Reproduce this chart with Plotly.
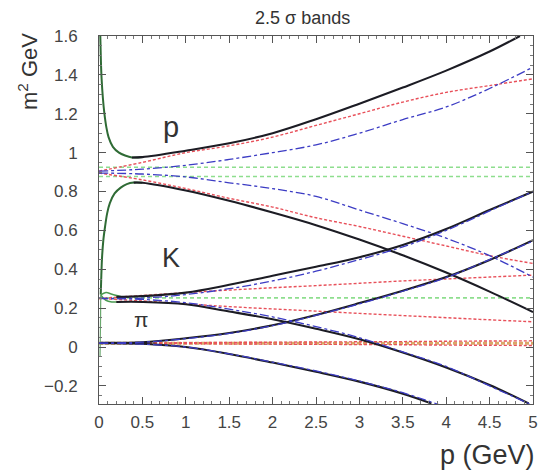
import plotly.graph_objects as go

# Momentum grid shared by the resolution-component bands (GeV)
P_GRID = [0.0, 0.5, 1.0, 1.5, 2.0, 2.5, 3.0, 3.5, 4.0, 4.5, 5.0]

# ---- proton ----
proton_red_hi = [0.905, 0.95, 1.0, 1.035, 1.08, 1.14, 1.20, 1.26, 1.31, 1.345, 1.38]
proton_red_lo = [0.895, 0.86, 0.815, 0.765, 0.72, 0.665, 0.62, 0.57, 0.52, 0.47, 0.43]
proton_blue_hi = [0.905, 0.915, 0.935, 0.965, 1.0, 1.04, 1.10, 1.17, 1.235, 1.33, 1.44]
proton_blue_lo = [0.895, 0.89, 0.875, 0.845, 0.815, 0.775, 0.705, 0.635, 0.56, 0.47, 0.36]

proton_tot_hi_p = [0.38, 0.5, 1.0, 1.5, 2.0, 2.5, 3.0, 3.5, 4.0, 4.5, 4.85]
proton_tot_hi = [0.975, 0.977, 1.01, 1.048, 1.10, 1.172, 1.252, 1.335, 1.422, 1.52, 1.60]
proton_tot_lo_p = [0.4, 0.5, 1.0, 1.5, 2.0, 2.5, 3.0, 3.5, 4.0, 4.5, 5.0]
proton_tot_lo = [0.846, 0.845, 0.805, 0.752, 0.692, 0.627, 0.553, 0.472, 0.383, 0.285, 0.18]

proton_ms_hi_p = [0.015, 0.022, 0.03, 0.045, 0.06, 0.085, 0.11, 0.16, 0.23, 0.3, 0.38, 0.5]
proton_ms_hi = [1.6, 1.47, 1.38, 1.28, 1.21, 1.13, 1.08, 1.03, 1.0, 0.985, 0.975, 0.977]
proton_ms_lo_p = [0.02, 0.027, 0.035, 0.05, 0.07, 0.095, 0.125, 0.18, 0.25, 0.32, 0.4, 0.5]
proton_ms_lo = [0.27, 0.37, 0.46, 0.55, 0.62, 0.69, 0.74, 0.79, 0.82, 0.838, 0.846, 0.845]

proton_const = [0.877, 0.925]

# ---- kaon ----
kaon_red_hi = [0.25, 0.265, 0.28, 0.293, 0.305, 0.316, 0.328, 0.34, 0.35, 0.36, 0.37]
kaon_red_lo = [0.25, 0.237, 0.222, 0.208, 0.196, 0.185, 0.173, 0.162, 0.151, 0.14, 0.13]
kaon_blue_hi = [0.25, 0.252, 0.27, 0.30, 0.34, 0.39, 0.45, 0.515, 0.60, 0.70, 0.80]
kaon_blue_lo = [0.25, 0.245, 0.228, 0.195, 0.155, 0.105, 0.048, -0.025, -0.10, -0.20, -0.30]

kaon_tot_hi_p = [0.2, 0.5, 1.0, 1.5, 2.0, 2.5, 3.0, 3.5, 4.0, 4.5, 5.0]
kaon_tot_hi = [0.258, 0.262, 0.28, 0.32, 0.367, 0.413, 0.462, 0.525, 0.607, 0.705, 0.80]
kaon_tot_lo_p = [0.2, 0.5, 1.0, 1.5, 2.0, 2.5, 3.0, 3.5, 4.0, 4.5, 4.95]
kaon_tot_lo = [0.232, 0.232, 0.22, 0.183, 0.143, 0.094, 0.04, -0.028, -0.105, -0.195, -0.29]

kaon_ms_hi_p = [0.02, 0.08, 0.15, 0.25]
kaon_ms_hi = [0.268, 0.28, 0.272, 0.26]
kaon_ms_lo_p = [0.02, 0.08, 0.15, 0.25]
kaon_ms_lo = [0.268, 0.24, 0.232, 0.232]
edge_p = [0.02, 0.018, 0.015, 0.012]
edge_m2 = [0.268, 0.15, 0.05, -0.05]

kaon_const = [0.253]

# ---- pion ----
pion_red_hi = [0.02, 0.021, 0.022, 0.024, 0.025, 0.026, 0.027, 0.028, 0.03, 0.031, 0.032]
pion_red_lo = [0.02, 0.019, 0.018, 0.016, 0.015, 0.014, 0.013, 0.012, 0.01, 0.009, 0.008]
pion_blue_hi = [0.02, 0.025, 0.043, 0.07, 0.11, 0.163, 0.222, 0.287, 0.357, 0.45, 0.545]
pion_blue_lo = [0.02, 0.015, 0.0, -0.035, -0.078, -0.123, -0.175, -0.235, -0.31, -0.40, -0.50]

pion_tot_hi_p = [0.02, 0.5, 1.0, 1.5, 2.0, 2.5, 3.0, 3.5, 4.0, 4.5, 5.0]
pion_tot_hi = [0.022, 0.025, 0.045, 0.072, 0.112, 0.165, 0.226, 0.29, 0.36, 0.448, 0.55]
pion_tot_lo_p = [0.02, 0.5, 1.0, 1.5, 2.0, 2.5, 3.0, 3.5, 3.83]
pion_tot_lo = [0.02, 0.017, 0.0, -0.036, -0.08, -0.127, -0.178, -0.24, -0.29]

pion_const = [0.02]

RED = "#e8505a"
BLUE = "#3c3cc4"
GREEN = "#8ede8e"
PION_BAND = "#d9a868"
DKGREEN = "#2f6b35"
BLACK = "#1c1c24"

fig = go.Figure()


def add_line(x, y, color, width, dash="solid", opacity=1.0):
    fig.add_trace(go.Scatter(
        x=x, y=y, mode="lines",
        line=dict(color=color, width=width, dash=dash, shape="spline", smoothing=1.0),
        opacity=opacity, hoverinfo="skip", showlegend=False,
    ))


# constant-mass reference lines
for level in proton_const + kaon_const:
    add_line([0, 5], [level, level], GREEN, 1.6, "4px,3px")
for level in pion_const:
    add_line([0, 5], [level, level], PION_BAND, 3.0, "4px,2px")

# momentum-resolution term (red) and timing term (blue)
for hi, lo in [(proton_red_hi, proton_red_lo), (kaon_red_hi, kaon_red_lo),
               (pion_red_hi, pion_red_lo)]:
    add_line(P_GRID, hi, RED, 1.4, "3px,2px")
    add_line(P_GRID, lo, RED, 1.4, "3px,2px")
for hi, lo in [(proton_blue_hi, proton_blue_lo)]:
    add_line(P_GRID, hi, BLUE, 1.3, "dashdot")
    add_line(P_GRID, lo, BLUE, 1.3, "dashdot")

# low-momentum (multiple scattering dominated) part
add_line(proton_ms_hi_p, proton_ms_hi, DKGREEN, 2.0)
add_line(proton_ms_lo_p, proton_ms_lo, DKGREEN, 2.0)
add_line(kaon_ms_hi_p, kaon_ms_hi, "#4a9a50", 1.5)
add_line(kaon_ms_lo_p, kaon_ms_lo, "#4a9a50", 1.5)
add_line(edge_p, edge_m2, "#6aa86e", 1.2)

# total 2.5 sigma bands
for px, m2 in [(proton_tot_hi_p, proton_tot_hi), (proton_tot_lo_p, proton_tot_lo),
               (kaon_tot_hi_p, kaon_tot_hi), (kaon_tot_lo_p, kaon_tot_lo),
               (pion_tot_hi_p, pion_tot_hi), (pion_tot_lo_p, pion_tot_lo)]:
    add_line(px, m2, BLACK, 2.1)

# timing term for the lighter species, drawn over the total band
for hi, lo in [(kaon_blue_hi, kaon_blue_lo), (pion_blue_hi, pion_blue_lo)]:
    add_line(P_GRID, hi, BLUE, 1.3, "dashdot")
    add_line(P_GRID, lo, BLUE, 1.3, "dashdot")

FONT = "Liberation Sans, Arial, sans-serif"
TXT = "#333333"

axis_common = dict(
    showgrid=False, zeroline=False, showline=True, linecolor="#555555", linewidth=1,
    mirror="ticks", ticks="inside", ticklen=7, tickcolor="#555555",
    tickfont=dict(family=FONT, size=17, color="#444444"),
)

fig.update_xaxes(range=[0, 5], tick0=0, dtick=0.5,
                 minor=dict(dtick=0.1, ticks="inside", ticklen=3, tickcolor="#777777"),
                 ticklabelstandoff=3, **axis_common)
fig.update_yaxes(range=[-0.293, 1.6], tick0=0, dtick=0.2,
                 minor=dict(dtick=0.05, ticks="inside", ticklen=3, tickcolor="#777777"),
                 ticklabelstandoff=17, **axis_common)

annotations = [
    dict(text="2.5 σ bands", xref="paper", yref="paper", x=0.469, y=1.049,
         xanchor="center", yanchor="middle",
         showarrow=False, font=dict(family=FONT, size=18, color=TXT)),
    dict(text="m<sup>2</sup> GeV", xref="paper", yref="paper", x=0, xshift=-71,
         xanchor="center", y=0.902, yanchor="middle", textangle=-90,
         showarrow=False, font=dict(family=FONT, size=22, color=TXT)),
    dict(text="p (GeV)", xref="paper", yref="paper", x=1.0, xanchor="right", xshift=4,
         y=-0.138, yanchor="middle",
         showarrow=False, font=dict(family=FONT, size=27, color=TXT)),
    dict(text="p", x=0.83, y=1.13, showarrow=False, font=dict(family=FONT, size=29, color=TXT)),
    dict(text="K", x=0.83, y=0.46, showarrow=False, font=dict(family=FONT, size=27, color=TXT)),
    dict(text="π", x=0.49, y=0.14, showarrow=False, font=dict(family=FONT, size=21, color=TXT)),
]

fig.update_layout(
    width=543, height=470,
    margin=dict(l=99, r=5, t=36, b=66),
    paper_bgcolor="white", plot_bgcolor="white",
    annotations=annotations,
    showlegend=False,
)

fig.write_html("out.html")
